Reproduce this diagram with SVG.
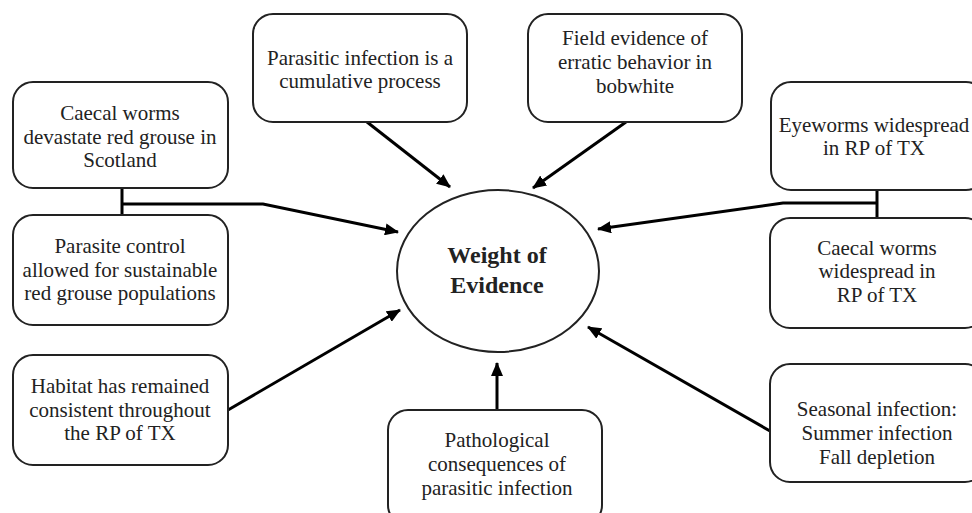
<svg xmlns="http://www.w3.org/2000/svg" width="972" height="513" viewBox="0 0 972 513">
<style>
.box{fill:#fff;stroke:#222;stroke-width:2}
.t{font-family:'Liberation Serif','Tinos','Times New Roman','DejaVu Serif',serif;font-size:21px;fill:#222;text-anchor:middle}
.c{fill:none;stroke:#000;stroke-width:3}
.hd{font-weight:bold;font-size:24px}
</style>
<defs>
<marker id="ah" markerUnits="userSpaceOnUse" markerWidth="14" markerHeight="12" refX="13" refY="6" orient="auto">
<path d="M0,0 L14,6 L0,12 Z" fill="#000"/>
</marker>
</defs>
<rect width="972" height="513" fill="#fff"/>
<g id="connectors">
<path class="c" d="M122,188 V215 M122,204 H263 L398,232" marker-end="url(#ah)"/>
<path class="c" d="M367,122 L450,187" marker-end="url(#ah)"/>
<path class="c" d="M626,122 L533,188" marker-end="url(#ah)"/>
<path class="c" d="M877,190 V218 M877,203 H783 L598,229" marker-end="url(#ah)"/>
<path class="c" d="M228,410 L400,310" marker-end="url(#ah)"/>
<path class="c" d="M497,410 V363" marker-end="url(#ah)"/>
<path class="c" d="M770,431 L588,327" marker-end="url(#ah)"/>
</g>
<g id="center">
<ellipse cx="498" cy="271" rx="101" ry="81" fill="#fff" stroke="#222" stroke-width="2"/>
<text class="t hd" x="497" y="263">Weight of</text>
<text class="t hd" x="497" y="293">Evidence</text>
</g>
<g id="n1">
<rect class="box" x="13" y="82" width="215" height="106" rx="20"/>
<text class="t" x="120" y="120">Caecal worms</text>
<text class="t" x="120" y="144">devastate red grouse in</text>
<text class="t" x="120" y="167">Scotland</text>
</g>
<g id="n2">
<rect class="box" x="13" y="215" width="215" height="110" rx="20"/>
<text class="t" x="120" y="253">Parasite control</text>
<text class="t" x="120" y="277">allowed for sustainable</text>
<text class="t" x="120" y="300">red grouse populations</text>
</g>
<g id="n3">
<rect class="box" x="253" y="14" width="214" height="108" rx="20"/>
<text class="t" x="360" y="65">Parasitic infection is a</text>
<text class="t" x="360" y="88">cumulative process</text>
</g>
<g id="n4">
<rect class="box" x="528" y="14" width="214" height="108" rx="20"/>
<text class="t" x="635" y="45">Field evidence of</text>
<text class="t" x="635" y="69">erratic behavior in</text>
<text class="t" x="635" y="93">bobwhite</text>
</g>
<g id="n5">
<rect class="box" x="771" y="82" width="215" height="108" rx="20"/>
<text class="t" x="874" y="132">Eyeworms widespread</text>
<text class="t" x="874" y="155">in RP of TX</text>
</g>
<g id="n6">
<rect class="box" x="770" y="218" width="215" height="110" rx="20"/>
<text class="t" x="877" y="255">Caecal worms</text>
<text class="t" x="877" y="278">widespread in</text>
<text class="t" x="877" y="302">RP of TX</text>
</g>
<g id="n7">
<rect class="box" x="13" y="355" width="215" height="110" rx="20"/>
<text class="t" x="120" y="393">Habitat has remained</text>
<text class="t" x="120" y="417">consistent throughout</text>
<text class="t" x="120" y="440">the RP of TX</text>
</g>
<g id="n8">
<rect class="box" x="388" y="410" width="214" height="115" rx="20"/>
<text class="t" x="497" y="447">Pathological</text>
<text class="t" x="497" y="471">consequences of</text>
<text class="t" x="497" y="495">parasitic infection</text>
</g>
<g id="n9">
<rect class="box" x="770" y="364" width="215" height="118" rx="20"/>
<text class="t" x="877" y="416">Seasonal infection:</text>
<text class="t" x="877" y="440">Summer infection</text>
<text class="t" x="877" y="464">Fall depletion</text>
</g>
</svg>
